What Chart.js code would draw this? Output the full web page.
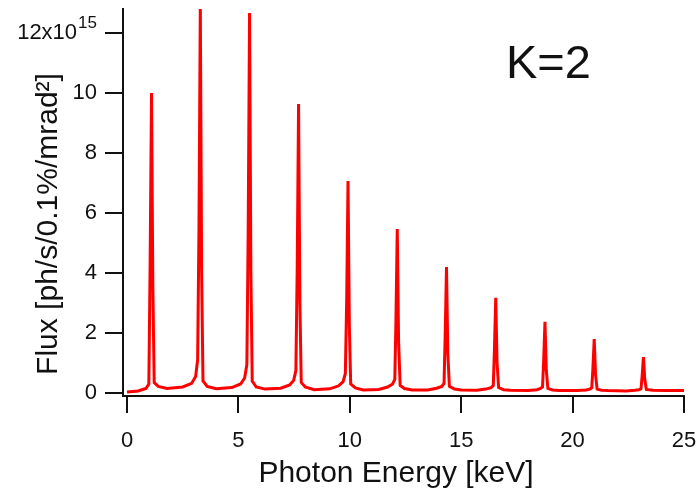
<!DOCTYPE html>
<html>
<head>
<meta charset="utf-8">
<script src="https://cdn.jsdelivr.net/npm/chart.js@4"></script>
<style>
  html, body { margin: 0; padding: 0; background: #fff; }
</style>
</head>
<body>
<canvas id="chart" width="700" height="490"></canvas>
<script>
// photon energy in keV
const energy = [
  0, 0.5, 0.85, 0.98,
  1.04, 1.10, 1.16, 1.22, 1.4, 1.8,
  2.5, 2.9, 3.08, 3.17, 3.23, 3.29, 3.35, 3.41, 3.6, 4.0,
  4.7, 5.1, 5.28, 5.38, 5.44, 5.50, 5.56, 5.62, 5.8, 6.2,
  6.9, 7.3, 7.48, 7.58, 7.64, 7.70, 7.76, 7.82, 8.0, 8.4,
  9.1, 9.5, 9.7, 9.8, 9.86, 9.92, 9.98, 10.04, 10.25, 10.6,
  11.3, 11.7, 11.92, 12.02, 12.07, 12.13, 12.19, 12.26, 12.45, 12.8,
  13.5, 13.9, 14.13, 14.23, 14.28, 14.34, 14.40, 14.47, 14.7, 15.0,
  15.7, 16.1, 16.34, 16.44, 16.49, 16.55, 16.61, 16.68, 16.9, 17.2,
  18.0, 18.4, 18.56, 18.65, 18.70, 18.76, 18.82, 18.89, 19.1, 19.4,
  20.2, 20.6, 20.77, 20.86, 20.91, 20.97, 21.03, 21.10, 21.3, 21.6,
  22.4, 22.8, 22.98, 23.07, 23.12, 23.18, 23.24, 23.31, 23.6, 24.2, 25.0
];

// flux in units of 10^15 ph/s/0.1%/mrad^2
const flux = [
  0.03, 0.07, 0.15, 0.3,
  4.5, 10.0, 3.5, 0.35, 0.22, 0.15,
  0.2, 0.32, 0.55, 1.1, 5.5, 12.9, 4.0, 0.4, 0.22, 0.14,
  0.18, 0.3, 0.5, 0.95, 5.5, 12.67, 4.0, 0.4, 0.2, 0.13,
  0.16, 0.27, 0.42, 0.75, 4.2, 9.63, 3.0, 0.35, 0.2, 0.11,
  0.14, 0.24, 0.38, 0.65, 3.1, 7.07, 2.2, 0.3, 0.17, 0.1,
  0.12, 0.2, 0.3, 0.45, 2.4, 5.47, 1.7, 0.25, 0.15, 0.1,
  0.1, 0.16, 0.22, 0.32, 1.9, 4.2, 1.3, 0.22, 0.13, 0.1,
  0.09, 0.13, 0.18, 0.25, 1.4, 3.17, 1.0, 0.18, 0.11, 0.09,
  0.08, 0.11, 0.15, 0.2, 1.05, 2.37, 0.75, 0.15, 0.1, 0.08,
  0.08, 0.1, 0.13, 0.17, 0.8, 1.8, 0.6, 0.13, 0.09, 0.08,
  0.07, 0.09, 0.11, 0.14, 0.55, 1.2, 0.45, 0.12, 0.09, 0.08, 0.08
];

const xTicks = [0, 5, 10, 15, 20, 25];
const yTicks = [0, 2, 4, 6, 8, 10, 12];

const xTitle = "Photon Energy [keV]";
const yTitle = "Flux [ph/s/0.1%/mrad²]";

const FONT = "'Liberation Sans', Arial, sans-serif";
const INK = "#111";

const points = energy.map((e, i) => ({ x: e, y: flux[i] }));

// axis titles, top tick label with exponent, and the K=2 note
const annotations = {
  id: "annotations",
  afterDraw(chart) {
    const c = chart.ctx;
    const y = chart.scales.y.getPixelForValue(12);
    c.save();
    c.fillStyle = INK;
    c.textAlign = "right";
    c.textBaseline = "alphabetic";
    c.font = "17px " + FONT;
    const w = c.measureText("15").width;
    c.fillText("15", 97, y - 5);
    c.textBaseline = "middle";
    c.font = "22px " + FONT;
    c.fillText("12x10", 97 - w - 1, y);

    c.textAlign = "left";
    c.textBaseline = "alphabetic";
    c.font = "47px " + FONT;
    c.fillText("K=2", 506, 78);

    c.font = "30px " + FONT;
    c.textAlign = "center";
    c.fillText(xTitle, 396, 482);

    c.translate(57, 224);
    c.rotate(-Math.PI / 2);
    c.fillText(yTitle, 0, 0);
    c.restore();
  }
};

new Chart(document.getElementById("chart"), {
  type: "scatter",
  data: {
    datasets: [
      {
        data: points,
        showLine: true,
        borderColor: "#ff0000",
        borderWidth: 3,
        pointRadius: 0,
        tension: 0,
      },
    ],
  },
  options: {
    responsive: false,
    animation: false,
    devicePixelRatio: 1,
    layout: { padding: { left: 0, right: 16, top: 9, bottom: 0 } },
    plugins: { legend: { display: false }, tooltip: { enabled: false } },
    scales: {
      x: {
        type: "linear",
        min: -0.18,
        max: 25,
        afterBuildTicks: (s) => { s.ticks = xTicks.map((v) => ({ value: v })); },
        afterFit: (s) => {
          s.height = 94;
          s.paddingLeft = 0;
          s.paddingRight = 0;
        },
        border: { display: true, color: INK, width: 2 },
        grid: { drawOnChartArea: false, drawTicks: true, tickLength: 17, color: INK, lineWidth: 2 },
        ticks: { color: INK, font: { family: FONT, size: 22 }, padding: 15, maxRotation: 0 },
      },
      y: {
        type: "linear",
        min: -0.1,
        max: 12.8,
        afterBuildTicks: (s) => { s.ticks = yTicks.map((v) => ({ value: v })); },
        afterFit: (s) => {
          s.width = 123;
          s.paddingTop = 0;
          s.paddingBottom = 0;
        },
        border: { display: true, color: INK, width: 2 },
        grid: { drawOnChartArea: false, drawTicks: true, tickLength: 18, color: INK, lineWidth: 2 },
        ticks: {
          color: INK,
          font: { family: FONT, size: 22 },
          padding: 8,
          callback: (v) => (v === 12 ? "" : String(v)),
        },
      },
    },
  },
  plugins: [annotations],
});
</script>
</body>
</html>
